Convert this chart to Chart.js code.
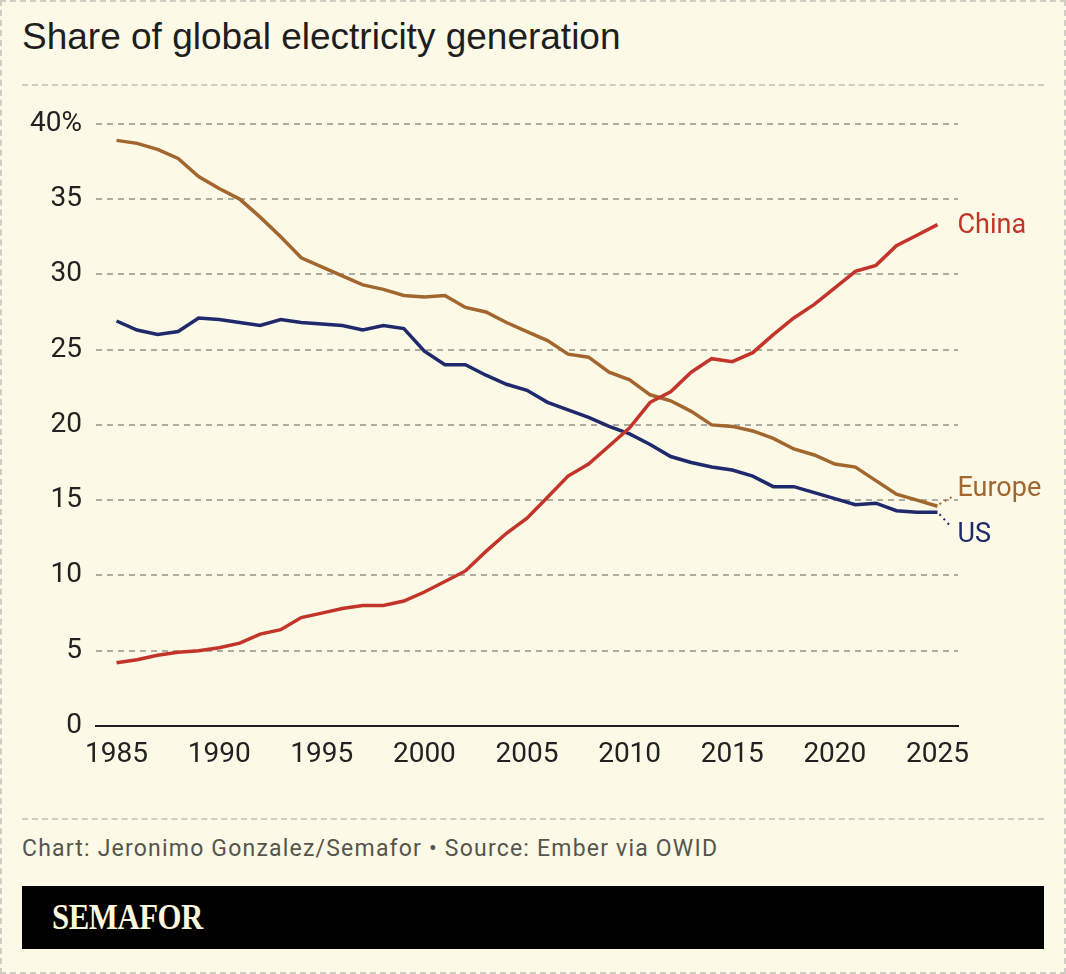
<!DOCTYPE html>
<html>
<head>
<meta charset="utf-8">
<script src="https://cdn.jsdelivr.net/npm/chart.js@4"></script>
<style>
  html, body { margin: 0; padding: 0; }
  body {
    width: 1066px; height: 974px; background: #fcf9e6;
    position: relative; overflow: hidden;
    font-family: Roboto, sans-serif;
  }
  .frame {
    position: absolute; left: 0; top: 0; width: 1062px; height: 970px;
    border: 2px dashed #cfcdc4;
  }
  .title {
    position: absolute; left: 22px; top: 16px;
    font-family: "Liberation Sans", Arial, sans-serif;
    font-size: 37px; color: #1e1e1e; white-space: nowrap;
  }
  .rule {
    position: absolute; left: 22px; width: 1022px; height: 0;
    border-top: 2px dashed #cfcdc4;
  }
  .chart-box {
    position: absolute; left: 0; top: 93px; width: 1066px; height: 700px;
  }
  .credit {
    position: absolute; left: 22px; top: 835px;
    font-size: 23px; letter-spacing: 1.2px; color: #55554d; white-space: nowrap;
  }
  .brand {
    position: absolute; left: 22px; top: 886px; width: 1022px; height: 63px;
    background: #000;
  }
  .brand span {
    position: absolute; left: 30px; top: 12px;
    font-family: "Liberation Serif", serif; font-weight: bold;
    font-size: 35px; color: #fcf6dc; letter-spacing: -0.5px;
    transform: scaleX(0.88); transform-origin: left center;
  }
</style>
</head>
<body>
<div class="frame"></div>
<div class="title">Share of global electricity generation</div>
<div class="rule" style="top:84px"></div>
<div class="chart-box"><canvas id="chart" width="1066" height="700"></canvas></div>
<div class="rule" style="top:818px"></div>
<div class="credit">Chart: Jeronimo Gonzalez/Semafor • Source: Ember via OWID</div>
<div class="brand"><span>SEMAFOR</span></div>

<script>
const years = [1985, 1986, 1987, 1988, 1989, 1990, 1991, 1992, 1993, 1994,
               1995, 1996, 1997, 1998, 1999, 2000, 2001, 2002, 2003, 2004,
               2005, 2006, 2007, 2008, 2009, 2010, 2011, 2012, 2013, 2014,
               2015, 2016, 2017, 2018, 2019, 2020, 2021, 2022, 2023, 2024, 2025];

const china = [4.2, 4.4, 4.7, 4.9, 5.0, 5.2, 5.5, 6.1, 6.4, 7.2,
               7.5, 7.8, 8.0, 8.0, 8.3, 8.9, 9.6, 10.3, 11.6, 12.8,
               13.8, 15.2, 16.6, 17.4, 18.6, 19.8, 21.5, 22.2, 23.5, 24.4,
               24.2, 24.8, 26.0, 27.1, 28.0, 29.1, 30.2, 30.6, 31.9, 32.6, 33.3];

const europe = [38.9, 38.7, 38.3, 37.7, 36.5, 35.7, 35.0, 33.8, 32.5, 31.1,
                30.5, 29.9, 29.3, 29.0, 28.6, 28.5, 28.6, 27.8, 27.5, 26.8,
                26.2, 25.6, 24.7, 24.5, 23.5, 23.0, 22.0, 21.6, 20.9, 20.0,
                19.9, 19.6, 19.1, 18.4, 18.0, 17.4, 17.2, 16.3, 15.4, 15.0, 14.6];

const us = [26.9, 26.3, 26.0, 26.2, 27.1, 27.0, 26.8, 26.6, 27.0, 26.8,
            26.7, 26.6, 26.3, 26.6, 26.4, 24.9, 24.0, 24.0, 23.3, 22.7,
            22.3, 21.5, 21.0, 20.5, 19.9, 19.4, 18.7, 17.9, 17.5, 17.2,
            17.0, 16.6, 15.9, 15.9, 15.5, 15.1, 14.7, 14.8, 14.3, 14.2, 14.2];

const xTicks = [1985, 1990, 1995, 2000, 2005, 2010, 2015, 2020, 2025];
const yTicks = [0, 5, 10, 15, 20, 25, 30, 35, 40];

const series = [
    { name: 'China', values: china, color: '#c3352a', labelDy: 2, lead: 0 },
    { name: 'Europe', values: europe, color: '#a2662f', labelDy: -17, lead: -1 },
    { name: 'US', values: us, color: '#1f2a6c', labelDy: 23, lead: 1 }
];

// end-of-line labels, with a short dotted leader where the label is nudged
const lineLabels = {
    id: 'lineLabels',
    afterDatasetsDraw(chart) {
        const ctx = chart.ctx;
        ctx.save();
        series.forEach((s, i) => {
            const pts = chart.getDatasetMeta(i).data;
            const last = pts[pts.length - 1];
            const tx = last.x + 20;
            const ty = last.y + s.labelDy;
            if (s.lead !== 0) {
                ctx.strokeStyle = s.color;
                ctx.lineWidth = 2;
                ctx.setLineDash([2, 4]);
                ctx.beginPath();
                ctx.moveTo(last.x + 2, last.y + s.lead * 2);
                ctx.lineTo(tx - 6, ty - s.lead * 8);
                ctx.stroke();
                ctx.setLineDash([]);
            }
            ctx.fillStyle = s.color;
            ctx.font = '27px Roboto';
            ctx.textAlign = 'left';
            ctx.textBaseline = 'middle';
            ctx.fillText(s.name, tx, ty);
        });
        ctx.restore();
    }
};

new Chart(document.getElementById('chart'), {
    type: 'line',
    data: {
        datasets: series.map(s => ({
            label: s.name,
            data: s.values.map((v, i) => ({ x: years[i], y: v })),
            borderColor: s.color,
            borderWidth: 3.5,
            pointRadius: 0,
            tension: 0,
            fill: false
        }))
    },
    options: {
        responsive: false,
        animation: false,
        layout: { padding: { top: 17, right: 108, bottom: 21, left: 0 } },
        plugins: {
            legend: { display: false },
            tooltip: { enabled: false }
        },
        scales: {
            x: {
                type: 'linear',
                min: 1984,
                max: 2026,
                afterBuildTicks: scale => {
                    scale.ticks = xTicks.map(v => ({ value: v }));
                },
                afterFit: scale => { scale.height = 46; },
                grid: { display: false, drawTicks: false },
                border: { display: true, color: '#1e1e1e', width: 2 },
                ticks: {
                    padding: 12,
                    color: '#222',
                    font: { family: 'Roboto', size: 28 },
                    maxRotation: 0,
                    autoSkip: false,
                    callback: v => String(v)
                }
            },
            y: {
                min: 0,
                max: 40,
                afterBuildTicks: scale => {
                    scale.ticks = yTicks.map(v => ({ value: v }));
                },
                afterFit: scale => { scale.width = 96; },
                grid: {
                    drawTicks: false,
                    color: c => c.tick && c.tick.value === 0 ? 'rgba(0,0,0,0)' : '#aeac9f',
                    lineWidth: 2
                },
                border: { display: false, dash: [6, 5] },
                ticks: {
                    padding: 14,
                    color: '#222',
                    font: { family: 'Roboto', size: 28 },
                    callback: v => v === 40 ? '40%' : String(v)
                }
            }
        }
    },
    plugins: [lineLabels]
});
</script>
</body>
</html>
